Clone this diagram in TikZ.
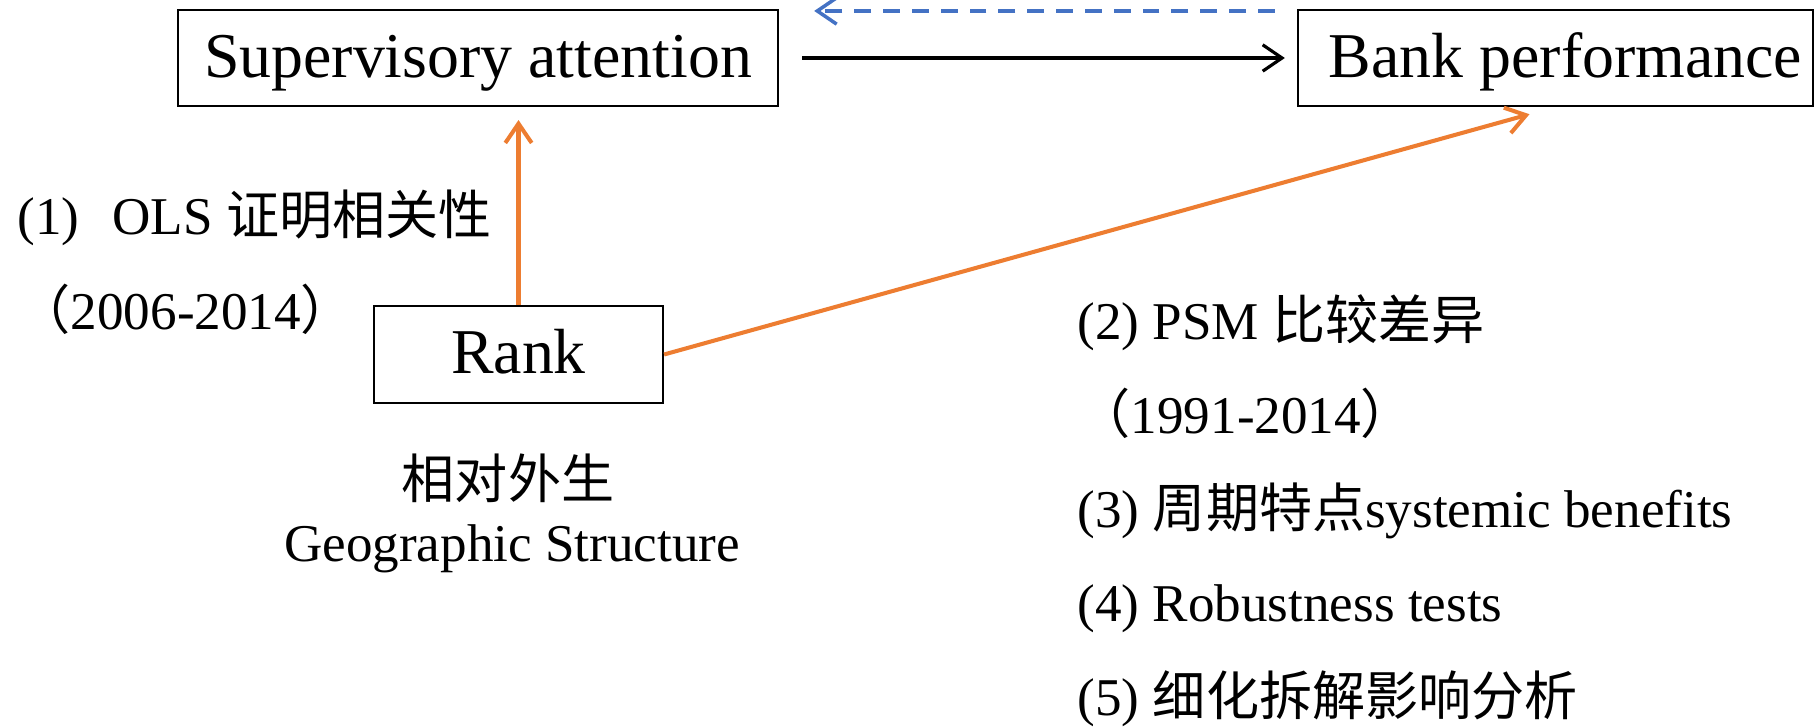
\documentclass[tikz,border=0pt]{standalone}
\usepackage{fontspec}
\setmainfont{Liberation Serif}
\newfontfamily\cjk{Noto Sans CJK SC}
\usetikzlibrary{arrows.meta}

\definecolor{linkorange}{HTML}{ED7D31}
\definecolor{linkblue}{HTML}{4472C4}

\tikzset{
  box/.style={draw, line width=0.57pt, inner sep=0pt, minimum height=0.96cm,
    text height=15.5pt, text depth=4.5pt, font=\fontsize{18.15}{22}\selectfont},
  note/.style={inner sep=0pt, anchor=base west, font=\fontsize{15.1}{18}\selectfont},
  link/.style={->, line width=1.15pt, linkorange},
}

\begin{document}
\begin{tikzpicture}[x=0.01cm, y=-0.01cm, >={Straight Barb[length=5.5pt,width=7.5pt]}]
  \useasboundingbox (0,0) rectangle (1817,728);

  % boxes
  \node[box, minimum width=6cm] (sup) at (478,58) {Supervisory attention};
  \node[box, minimum width=5.15cm] (bank) at (1555.5,58) {\hspace{0.2cm}Bank performance};
  \node[box, minimum width=2.89cm, minimum height=0.97cm] (rank) at (518.5,354.5) {Rank};

  % links
  \draw[->, line width=0.9pt, shorten <=0.23cm, shorten >=0.12cm] (sup.east) -- (bank.west);
  \draw[->, linkblue, line width=1pt, dash pattern=on 4.8pt off 3.4pt,
    shorten <=0.22cm, shorten >=0.35cm]
    ([yshift=-0.02cm]bank.north west) -- ([yshift=-0.02cm]sup.north east);
  \draw[link, shorten >=0.13cm] (rank.north) -- (rank.north |- sup.south);
  \draw[link, shorten >=0.27cm] (rank.east) -- (bank.south);

  % notes on the left
  \node[note] (ols) at (17,235) {(1)\hspace{0.62em}OLS {\cjk 证明相关性}};
  \node[note] (olsyears) at (17,330) {{\cjk （}2006-2014{\cjk ）}};
  \node[note, anchor=base] (exo) at (508,499) {\cjk 相对外生};
  \node[note, anchor=base] (geo) at (512,562) {Geographic Structure};

  % notes on the right
  \node[note] (psm) at (1077,340) {(2) PSM {\cjk 比较差异}};
  \node[note] (psmyears) at (1077,434) {{\cjk （}1991-2014{\cjk ）}};
  \node[note] (cycle) at (1077,528) {(3) {\cjk 周期特点}systemic benefits};
  \node[note] (robust) at (1077,622) {(4) Robustness tests};
  \node[note] (detail) at (1077,716) {(5) {\cjk 细化拆解影响分析}};
\end{tikzpicture}
\end{document}
